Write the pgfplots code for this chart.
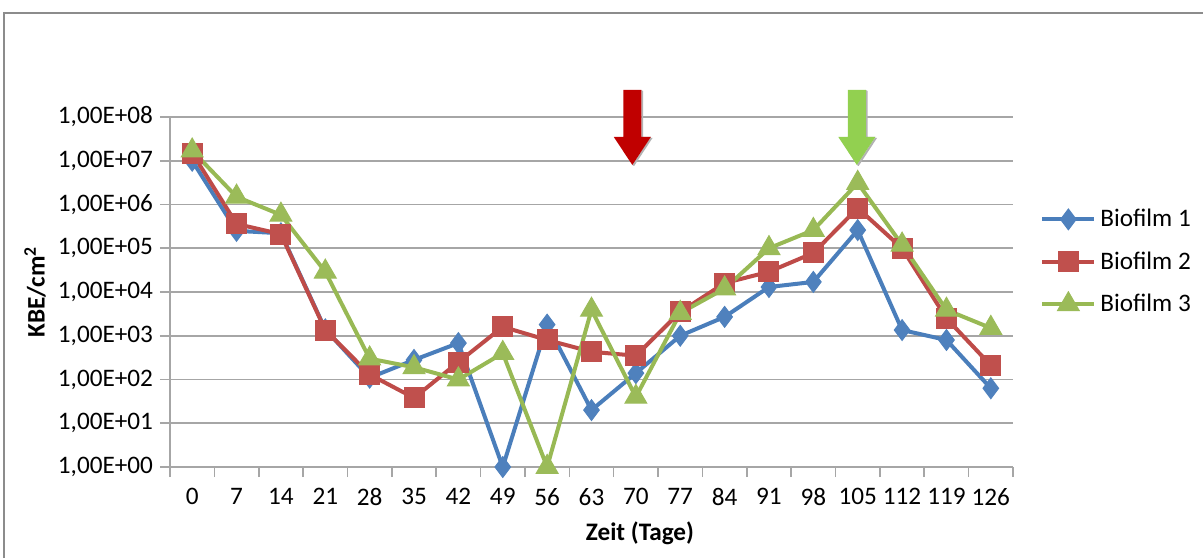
\documentclass[border=0pt]{standalone}
\usepackage{pgfplots}
\pgfplotsset{compat=1.18}
\usepackage{fontspec}
\setmainfont{Carlito}
\definecolor{bl}{HTML}{4A7EBB}
\definecolor{blm}{HTML}{4F81BD}
\definecolor{rd}{HTML}{BE4B48}
\definecolor{rdm}{HTML}{C0504D}
\definecolor{gr}{HTML}{98B954}
\definecolor{grm}{HTML}{9BBB59}
\definecolor{arrred}{HTML}{C00000}
\definecolor{arrgreen}{HTML}{92D050}
\definecolor{gridc}{HTML}{A6A6A6}
\definecolor{framec}{HTML}{8C8C8C}
\begin{document}
\begin{tikzpicture}[font=\fontsize{12.6}{14}\selectfont]
\useasboundingbox (0,0) rectangle (601.5pt,279pt);
\draw[framec, line width=1.2pt] (2pt,0pt) -- (2pt,272.5pt) -- (602pt,272.5pt);
\begin{axis}[
  at={(85pt,45.5pt)}, anchor=south west,
  scale only axis, width=421.5pt, height=175pt,
  ymode=log, ymin=1, ymax=1e8,
  xmin=-0.5, xmax=18.5,
  xtick={0,...,18},
  xticklabels={0,7,14,21,28,35,42,49,56,63,70,77,84,91,98,105,112,119,126},
  minor xtick={-0.5,0.5,...,18.5},
  major x tick style={draw=none},
  minor x tick style={gridc, line width=0.8pt},
  minor tick length=5pt,
  ytick={1,10,100,1000,10000,100000,1000000,10000000,100000000},
  yticklabels={{1,00E+00},{1,00E+01},{1,00E+02},{1,00E+03},{1,00E+04},{1,00E+05},{1,00E+06},{1,00E+07},{1,00E+08}},
  yminorticks=false,
  tick align=outside,
  major tick length=5pt,
  y tick style={gridc, line width=0.8pt},
  ymajorgrids, grid style={gridc, line width=0.9pt},
  axis x line*=bottom, axis y line*=left,
  axis line style={gridc, line width=0.9pt, -},
  every tick label/.append style={font=\fontsize{12.6}{14}\selectfont},
  xticklabel style={yshift=-2pt},
  xlabel={\textbf{Zeit (Tage)}},
  ylabel={\textbf{KBE/cm\textsuperscript{2}}},
  xlabel style={at={(axis description cs:0.5575,-0.1886)}, anchor=center},
  ylabel style={at={(axis description cs:-0.160,0.5)}, anchor=center, rotate=0},
  clip=false,
  legend style={at={(axis description cs:1.032,0.586)}, anchor=west, draw=none, fill=none,
    row sep=7pt, font=\fontsize{12.6}{14}\selectfont, inner sep=0pt},
  legend cell align=left,
  legend image code/.code={\draw[mark repeat=2,mark phase=2] plot coordinates {(0pt,0pt) (13pt,0pt) (26pt,0pt)};},
]
\addplot[bl, line width=2pt, mark=diamond*, mark size=5.2pt, mark options={fill=blm, draw=blm, line width=0.5pt}]
coordinates {(0,1.0e7) (1,2.5e5) (2,2.2e5) (3,1.4e3) (4,1.1e2) (5,2.8e2) (6,6.8e2) (7,1) (8,1.8e3) (9,20) (10,1.4e2) (11,1.0e3) (12,2.7e3) (13,1.3e4) (14,1.7e4) (15,2.6e5) (16,1.35e3) (17,8e2) (18,63)};
\addlegendentry{Biofilm 1}
\addplot[rd, line width=2pt, mark=square*, mark size=5pt, mark options={fill=rdm, draw=rdm, line width=0.5pt}]
coordinates {(0,1.5e7) (1,3.6e5) (2,2.1e5) (3,1.35e3) (4,1.3e2) (5,38) (6,2.5e2) (7,1.6e3) (8,8e2) (9,4.3e2) (10,3.5e2) (11,3.5e3) (12,1.6e4) (13,2.9e4) (14,7.8e4) (15,8.3e5) (16,1.0e5) (17,2.5e3) (18,2.1e2)};
\addlegendentry{Biofilm 2}
\addplot[gr, line width=2pt, mark=triangle*, mark size=6.3pt, mark options={fill=grm, draw=grm, line width=0.5pt}]
coordinates {(0,1.7e7) (1,1.5e6) (2,5.8e5) (3,2.9e4) (4,3.0e2) (5,1.9e2) (6,1.0e2) (7,4e2) (8,1) (9,3.9e3) (10,40) (11,3.3e3) (12,1.2e4) (13,1.0e5) (14,2.6e5) (15,3.1e6) (16,1.2e5) (17,3.9e3) (18,1.5e3)};
\addlegendentry{Biofilm 3}
% arrows
\begin{scope}[shift={(axis cs:9.92,8e6)}]
\fill[gray!60] (0.9pt,-0.5pt) -- (10.1pt,13.5pt) -- (5.4pt,13.5pt) -- (5.4pt,37pt) -- (4.5pt,37.5pt) -- (4.5pt,14pt) -- (9.25pt,14pt) -- (0pt,0pt) -- cycle;
\fill[arrred] (0pt,0pt) -- (-9.25pt,14pt) -- (-4.5pt,14pt) -- (-4.5pt,37.5pt) -- (4.5pt,37.5pt) -- (4.5pt,14pt) -- (9.25pt,14pt) -- cycle;
\end{scope}
\begin{scope}[shift={(axis cs:14.98,8e6)}]
\fill[gray!60] (0.9pt,-0.5pt) -- (10.1pt,13.5pt) -- (5.4pt,13.5pt) -- (5.4pt,37pt) -- (4.5pt,37.5pt) -- (4.5pt,14pt) -- (9.25pt,14pt) -- (0pt,0pt) -- cycle;
\fill[arrgreen] (0pt,0pt) -- (-9.25pt,14pt) -- (-4.5pt,14pt) -- (-4.5pt,37.5pt) -- (4.5pt,37.5pt) -- (4.5pt,14pt) -- (9.25pt,14pt) -- cycle;
\end{scope}
\end{axis}
\end{tikzpicture}
\end{document}
